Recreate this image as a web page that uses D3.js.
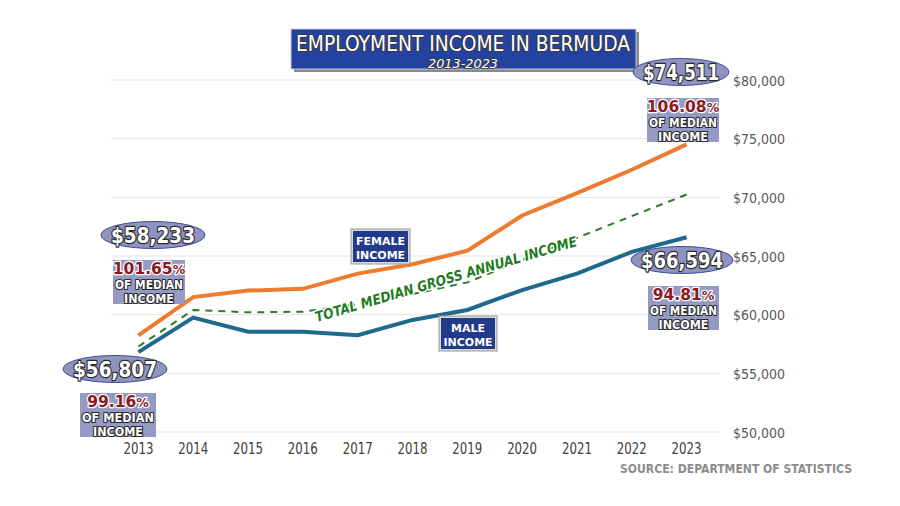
<!DOCTYPE html>
<html><head><meta charset="utf-8">
<script src="https://cdn.jsdelivr.net/npm/d3@7"></script>
<style>
html,body{margin:0;padding:0;background:#fff;}
svg{display:block;}
</style></head>
<body>
<svg id="chart" width="900" height="506"></svg>
<script>
const years = ["2013","2014","2015","2016","2017","2018","2019","2020","2021","2022","2023"];
const female = [58233,61500,62050,62200,63500,64300,65450,68450,70350,72350,74511];
const male   = [56807,59750,58550,58550,58250,59550,60400,62100,63500,65350,66594];
const total  = [57288,60400,60200,60250,60900,61750,62750,64650,66550,68400,70240];
const yTicks = [50000,55000,60000,65000,70000,75000,80000];

const svg = d3.select("#chart");
const x = d3.scaleBand().domain(years).range([111,714]);
const y = d3.scaleLinear().domain([50000,80000]).range([432,80]);
const cx = d => x(d) + x.bandwidth()/2;

// gridlines
svg.append("g").selectAll("line").data(yTicks).join("line")
  .attr("x1",111).attr("x2",720)
  .attr("y1",d=>y(d)).attr("y2",d=>y(d))
  .attr("stroke","#e3e3e3").attr("stroke-width",1);

// right axis labels
const fmt = d3.format("$,");
svg.append("g").selectAll("text").data(yTicks).join("text")
  .attr("x",733).attr("y",d=>y(d)+5.5)
  .attr("font-family","DejaVu Sans Condensed, DejaVu Sans").attr("font-size",14)
  .attr("fill","#595959").text(d=>fmt(d));

// x axis labels
svg.append("g").selectAll("text").data(years).join("text")
  .attr("x",d=>cx(d)).attr("y",454).attr("text-anchor","middle")
  .attr("font-family","DejaVu Sans Condensed, DejaVu Sans").attr("font-size",15)
  .attr("textLength",30).attr("lengthAdjust","spacingAndGlyphs")
  .attr("fill","#404040").text(d=>d);

// lines
const line = arr => d3.line().x((d,i)=>cx(years[i])).y(d=>y(d))(arr);
svg.append("path").attr("d",line(total)).attr("fill","none")
  .attr("stroke","#2a7a2a").attr("stroke-width",2).attr("stroke-dasharray","7,6");
svg.append("path").attr("d",line(female)).attr("fill","none")
  .attr("stroke","#ee7b30").attr("stroke-width",4);
svg.append("path").attr("d",line(male)).attr("fill","none")
  .attr("stroke","#1f6a8c").attr("stroke-width",4);

// outlined text helper
function otext(g, txt, px, py, size, fill, stroke, sw, opts={}){
  const t = g.append("text").attr("x",px).attr("y",py)
    .attr("text-anchor",opts.anchor||"middle")
    .attr("font-family",opts.family||"DejaVu Sans")
    .attr("font-weight",opts.weight||"bold")
    .attr("font-style",opts.style||"normal")
    .attr("font-size",size).attr("fill",fill)
    .attr("stroke",stroke).attr("stroke-width",sw)
    .attr("paint-order","stroke").attr("stroke-linejoin","round")
    .text(txt);
  if(opts.len) t.attr("textLength",opts.len).attr("lengthAdjust","spacingAndGlyphs");
  return t;
}

// title box
const tg = svg.append("g");
tg.append("rect").attr("x",294).attr("y",32).attr("width",345).attr("height",40).attr("fill","#8a8a8a");
tg.append("rect").attr("x",291).attr("y",29).attr("width",345).attr("height",40)
  .attr("fill","#2443a0").attr("stroke","#c9c9e0").attr("stroke-width",1);
otext(tg,"EMPLOYMENT INCOME IN BERMUDA",463,51,21,"#ffffff","#3a3a3a",2,{weight:"normal",len:334});
otext(tg,"2013-2023",463,67.5,12.5,"#ffffff","#3a3a3a",1.5,{weight:"normal",style:"italic",len:70});

// value ellipses
const ellipses = [
  {t:"$58,233", x:153, y:235, w:104},
  {t:"$56,807", x:115, y:369, w:104},
  {t:"$74,511", x:681, y:72, w:96},
  {t:"$66,594", x:682, y:260, w:102}
];
const eg = svg.append("g");
ellipses.forEach(e=>{
  eg.append("ellipse").attr("cx",e.x).attr("cy",e.y).attr("rx",e.w/2).attr("ry",13.5)
    .attr("fill","#8f93bf").attr("stroke","#3a4f9a").attr("stroke-width",1);
  otext(eg,e.t,e.x,e.y+7.5,21,"#ffffff","#2a2a2a",2.5,{len:e.w-20});
});

// percent boxes
const pboxes = [
  {p:"101.65", x:113, y:260, w:72},
  {p:"99.16", x:80, y:393, w:76},
  {p:"106.08", x:647, y:98, w:72},
  {p:"94.81", x:648, y:286, w:71}
];
const pg = svg.append("g");
pboxes.forEach(b=>{
  pg.append("rect").attr("x",b.x).attr("y",b.y).attr("width",b.w).attr("height",44)
    .attr("fill","#8f95c2").attr("opacity",0.95);
  const mx = b.x + b.w/2;
  const t = otext(pg,"",mx,b.y+14,15.5,"#8b1a1f","#ffffff",2.5);
  t.append("tspan").text(b.p);
  t.append("tspan").attr("font-size",12.5).text("%");
  otext(pg,"OF MEDIAN",mx,b.y+29,11.5,"#ffffff","#2a2a2a",2.2,{len:b.w-4});
  otext(pg,"INCOME",mx,b.y+43,11.5,"#ffffff","#2a2a2a",2.2,{len:50});
});

// series label boxes
function seriesBox(lines, bx, by, w, h){
  const g = svg.append("g");
  g.append("rect").attr("x",bx-2).attr("y",by-2).attr("width",w+4).attr("height",h+4)
    .attr("fill","#d9d9d9").attr("stroke","#9a9a9a").attr("stroke-width",1);
  g.append("rect").attr("x",bx).attr("y",by).attr("width",w).attr("height",h).attr("fill","#223a8c");
  lines.forEach((l,i)=>{
    g.append("text").attr("x",bx+w/2).attr("y",by+14+i*14).attr("text-anchor","middle")
      .attr("font-family","DejaVu Sans").attr("font-weight","bold").attr("font-size",11)
      .attr("fill","#ffffff").text(l);
  });
}
seriesBox(["FEMALE","INCOME"],353,231,55,31);
seriesBox(["MALE","INCOME"],441,318,54,31);

// total label (rotated)
otext(svg.append("g").attr("transform","translate(446,279) rotate(-16.3)"),
  "TOTAL MEDIAN GROSS ANNUAL INCOME",0,5,14,"#1e7b1e","#ffffff",3,
  {style:"italic",len:272});

// source
svg.append("text").attr("x",852).attr("y",473).attr("text-anchor","end")
  .attr("font-family","DejaVu Sans Condensed, DejaVu Sans").attr("font-weight","bold")
  .attr("font-size",12.5).attr("fill","#8c8c8c")
  .attr("textLength",232).attr("lengthAdjust","spacingAndGlyphs")
  .text("SOURCE: DEPARTMENT OF STATISTICS");
</script>
</body></html>
